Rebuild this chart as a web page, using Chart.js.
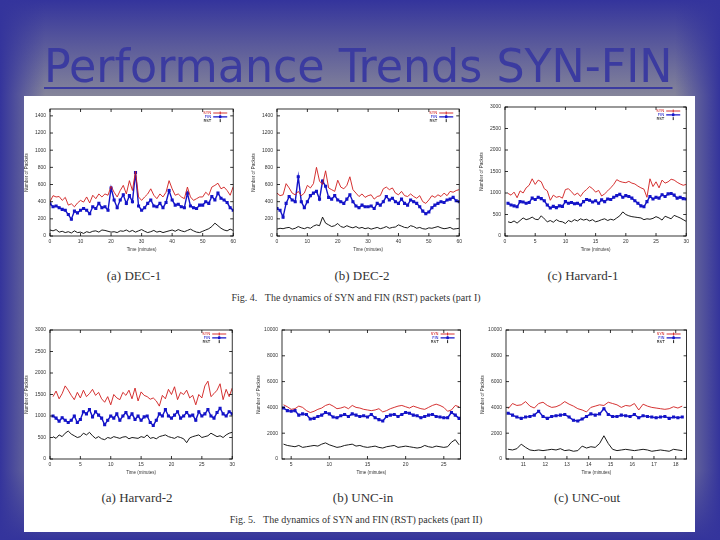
<!DOCTYPE html>
<html>
<head>
<meta charset="utf-8">
<script src="https://cdn.jsdelivr.net/npm/chart.js@4.4.1/dist/chart.umd.min.js"></script>
<style>
  html, body { margin: 0; padding: 0; }
  body {
    width: 720px; height: 540px; position: relative; overflow: hidden;
    background:
      linear-gradient(to right, #34349c 0px, rgba(52,52,156,0) 45px, rgba(52,52,156,0) 675px, #34349c 720px),
      linear-gradient(to bottom, #34349c 0px, rgba(52,52,156,0) 95px, rgba(52,52,156,0) 470px, #34349c 540px),
      #84849a;
  }
  #title {
    position: absolute; left: 44px; top: 41px;
    font-family: "DejaVu Sans Condensed", "DejaVu Sans", sans-serif;
    font-size: 47px; line-height: 50px; color: #3b3ba0;
    white-space: nowrap; transform-origin: 0 0;
    text-decoration: underline; text-decoration-thickness: 2px; text-underline-offset: 5px;
  }
  #panel { position: absolute; left: 24px; top: 96px; width: 671px; height: 436px; background: #fff; }
  canvas { position: absolute; }
  .cap { position: absolute; font-family: "Liberation Serif", serif; color: #333; white-space: nowrap; transform: translate(-50%, -50%); }
  .sub { font-size: 13px; }
  .fig { font-size: 10px; }
</style>
</head>
<body>
<div id="title">Performance Trends SYN-FIN</div>
<div id="panel"></div>

<div class="cap sub" style="left:134px; top:276px">(a) DEC-1</div>
<div class="cap sub" style="left:362px; top:276px">(b) DEC-2</div>
<div class="cap sub" style="left:583px; top:276px">(c) Harvard-1</div>
<div class="cap fig" style="left:356px; top:297px">Fig. 4.&nbsp;&nbsp;&nbsp;The dynamics of SYN and FIN (RST) packets (part I)</div>

<div class="cap sub" style="left:137px; top:498px">(a) Harvard-2</div>
<div class="cap sub" style="left:363px; top:498px">(b) UNC-in</div>
<div class="cap sub" style="left:587px; top:498px">(c) UNC-out</div>
<div class="cap fig" style="left:356px; top:519px">Fig. 5.&nbsp;&nbsp;&nbsp;The dynamics of SYN and FIN (RST) packets (part II)</div>

<script>
// series names
const seriesNames = ['SYN', 'FIN', 'RST'];

// DEC-1 (one sample per minute, 0..60)
const dec1Start = 0, dec1Step = 1;
const dec1Syn = [400,470,455,460,415,450,360,375,340,385, 415,395,455,385,475,435,490,455,490,475, 580,510,455,530,590,490,645,530,755,455, 415,455,490,550,475,435,490,455,510,645, 550,475,490,455,435,570,455,415,435,455, 455,510,475,570,590,615,550,570,530,475, 575];
const dec1Fin = [375,340,350,330,310,300,250,195,290,270, 300,320,300,260,340,320,380,330,340,300, 560,420,330,420,480,380,470,400,740,350, 300,330,380,420,350,340,380,330,390,530, 420,360,370,340,330,500,350,330,320,360, 360,400,380,460,420,500,440,420,390,330, 300];
const dec1Rst = [70,60,75,45,55,40,50,35,60,40, 45,30,50,40,55,60,45,70,65,55, 45,50,40,60,55,70,50,65,45,60, 75,55,40,50,65,45,55,40,50,60, 70,55,75,60,50,65,80,60,45,40, 55,70,85,110,150,120,90,70,60,80, 65];

// DEC-2
const dec2Start = 0, dec2Step = 1;
const dec2Syn = [500,470,480,610,560,500,480,520,470,500, 590,560,610,800,640,600,760,560,540,520, 650,570,550,590,690,540,500,460,490,450, 470,480,430,460,470,550,570,540,560,500, 480,520,470,460,490,460,440,470,400,380, 420,470,450,480,460,500,470,520,510,530, 540];
const dec2Fin = [320,300,220,380,460,420,400,690,400,330, 400,470,500,520,430,640,580,450,430,470, 420,400,380,430,480,400,350,330,360,340, 340,350,320,380,360,400,460,420,440,400, 380,430,380,360,420,400,380,340,290,260, 280,330,360,380,400,390,420,430,450,410, 400];
const dec2Rst = [80,90,85,95,100,80,90,110,95,85, 100,90,115,130,120,220,150,130,110,120, 146,110,100,120,105,95,110,90,100,85, 95,80,90,100,85,95,110,90,100,105, 130,115,100,95,120,110,90,100,85,80, 95,90,100,110,95,85,90,100,80,85, 90];

// Harvard-1 (every half minute, 0.5..30)
const h1Start = 0.5, h1Step = 0.5;
const h1Syn = [990,950,1020,890,1050,1000,1120,1180,1330,1200, 1300,1260,1100,1050,830,950,900,920,880,1080, 1100,1030,950,1000,920,1020,1080,1150,1100,1020, 1060,930,980,1050,1120,1200,1310,1270,1250,1240, 1270,1230,1210,1160,1120,1090,900,1330,1150,1260, 1120,1300,1230,1260,1320,1300,1250,1210,1180,1200];
const h1Fin = [760,720,700,680,800,790,760,780,880,850, 900,870,820,720,650,690,660,700,690,800, 760,780,750,760,720,800,850,830,790,820, 760,840,800,860,850,900,940,970,900,940, 920,880,820,760,700,680,800,920,860,900, 880,960,920,980,990,950,880,900,870,860];
const h1Rst = [330,310,350,300,360,420,380,400,440,390, 380,470,400,330,360,320,380,340,330,290, 360,330,380,350,400,370,390,350,380,330, 350,380,400,360,390,370,420,470,560,500, 470,450,440,430,420,380,400,390,410,450, 420,370,460,430,400,480,450,420,380,340];

// Harvard-2
const h2Start = 0.5, h2Step = 0.5;
const h2Syn = [1450,1580,1400,1520,1700,1600,1480,1380,1550,1420, 1600,1450,1520,1620,1480,1550,1400,1320,1450,1260, 1500,1420,1380,1550,1480,1600,1400,1650,1350,1560, 1480,1450,1390,1420,1350,1230,1480,1400,1620,1500, 1680,1380,1550,1500,1600,1420,1480,1260,1500,1420, 1700,1810,1450,1520,1600,1750,1380,1620,1450,1650];
const h2Fin = [1000,950,880,960,900,850,900,1000,850,920, 1100,1050,1150,980,1100,1020,950,800,900,1000, 950,1050,900,1000,1080,960,1050,920,1000,900, 980,1000,850,780,900,1050,1000,1150,1000,950, 1020,1100,950,1000,1080,1000,1020,900,1100,1000, 1050,1150,1000,950,1080,1180,1050,1000,1100,1050];
const h2Rst = [520,480,560,520,600,650,580,540,500,520, 600,560,620,540,480,520,470,450,500,480, 520,500,480,510,520,470,500,490,480,520, 500,560,480,500,470,520,540,560,520,500, 480,520,500,470,380,490,520,540,560,500, 520,540,600,560,520,540,500,560,600,620];

// UNC-in (4..27)
const uinStart = 4, uinStep = 0.5;
const uinSyn = [4200,4050,3850,3900,4100,4000,3750,3600,3700,3850, 3950,4150,4250,4100,3900,3950,4050,3900,4150,4000, 3950,3850,3800,3750,3800,3900,3650,3750,3900,4000, 4100,4150,4050,3950,4100,4000,3900,3850,4000,4150, 4250,4150,4000,3700,3800,4150,4050];
const uinFin = [3950,3750,3700,3750,3400,3500,3450,3100,3150,3300, 3400,3600,3500,3250,3200,3350,3450,3300,3500,3400, 3300,3350,3250,3450,3200,3050,2950,3300,3400,3450, 3300,3450,3600,3550,3400,3350,3200,3300,3400,3450, 3300,3250,3200,3200,3600,3400,3150];
const uinRst = [1150,1050,1000,950,1050,900,950,1000,1050,1000, 1150,1250,1100,1000,900,950,1050,1100,1150,1000, 1050,950,900,950,1000,900,850,950,1000,1050, 900,950,1000,950,900,850,900,1050,950,900, 1000,950,900,950,1300,1500,1100];

// UNC-out (10.3..18.3)
const uoutStart = 10.3, uoutStep = 0.2;
const uoutSyn = [3900,4300,4150,4200,4450,4100,3950,4300,4400,4150, 4000,4050,4200,4450,4250,4100,3900,3800,3650,4000, 4100,4200,4150,4400,4300,4200,4000,4150,4100,4300, 3800,4250,4100,4000,3950,3900,3850,3900,4050,3950, 4100];
const uoutFin = [3550,3400,3250,3150,3250,3300,3400,3700,3300,3150, 3300,3350,3400,3450,3250,3000,2950,3100,3300,3500, 3400,3500,3900,3450,3300,3300,3400,3350,3300,3450, 3200,3350,3300,3250,3200,3250,3300,3150,3250,3200, 3250];
const uoutRst = [750,700,800,1150,900,700,650,700,650,700, 750,700,800,650,700,600,650,1000,850,950, 900,1200,1800,1200,750,650,700,750,700,650, 700,750,700,600,650,700,650,600,750,700, 650];

// tick labels
const decXTicks = [0, 10, 20, 30, 40, 50, 60];
const decYTicks = [0, 200, 400, 600, 800, 1000, 1200, 1400];
const harvXTicks = [0, 5, 10, 15, 20, 25, 30];
const harvYTicks = [0, 500, 1000, 1500, 2000, 2500, 3000];
const uinXTicks = [5, 10, 15, 20, 25];
const uoutXTicks = [11, 12, 13, 14, 15, 16, 17, 18];
const uncYTicks = [0, 2000, 4000, 6000, 8000, 10000];

const colors = ['#d01c1c', '#1414c8', '#000000'];

// box round the plot with gnuplot style inward ticks
const framePlugin = {
  id: 'frame',
  afterDatasetsDraw(chart) {
    const { ctx, chartArea: a, scales } = chart;
    ctx.save();
    ctx.strokeStyle = '#000';
    ctx.lineWidth = 0.8;
    ctx.strokeRect(a.left, a.top, a.width, a.height);
    ctx.beginPath();
    scales.x.ticks.forEach(t => {
      const p = scales.x.getPixelForValue(t.value);
      ctx.moveTo(p, a.bottom); ctx.lineTo(p, a.bottom - 3);
      ctx.moveTo(p, a.top); ctx.lineTo(p, a.top + 3);
    });
    scales.y.ticks.forEach(t => {
      const p = scales.y.getPixelForValue(t.value);
      ctx.moveTo(a.left, p); ctx.lineTo(a.left + 3, p);
      ctx.moveTo(a.right, p); ctx.lineTo(a.right - 3, p);
    });
    ctx.stroke();
    ctx.restore();
  }
};

// legend in the top right corner: label, then a line sample
const keyPlugin = {
  id: 'key',
  afterDraw(chart) {
    const { ctx, chartArea: a } = chart;
    ctx.save();
    ctx.font = '4px "DejaVu Sans"';
    ctx.textAlign = 'right';
    ctx.textBaseline = 'middle';
    chart.data.datasets.forEach((ds, i) => {
      const y = a.top + 4 + i * 3.8;
      ctx.fillStyle = ds.borderColor;
      ctx.fillText(ds.label, a.right - 22, y);
      ctx.strokeStyle = ds.borderColor;
      ctx.lineWidth = i === 1 ? 1.3 : 0.9;
      ctx.beginPath();
      if (i < 2) { ctx.moveTo(a.right - 20, y); ctx.lineTo(a.right - 6, y); }
      ctx.moveTo(a.right - 13, y - 1.5); ctx.lineTo(a.right - 13, y + 1.5);
      ctx.stroke();
      if (i === 1) ctx.fillRect(a.right - 14.2, y - 1.2, 2.4, 2.4);
    });
    ctx.restore();
  }
};

function series(start, step, values) {
  return values.map((v, i) => ({ x: start + i * step, y: v }));
}

function makeChart(rect, xr, xt, yr, yt, start, step, syn, fin, rst) {
  const [L, T, R, B] = rect;
  const padTop = 6, padRight = 5, yW = 26, xH = 16;
  const c = document.createElement('canvas');
  c.width = (R - L) + yW + padRight;
  c.height = (B - T) + padTop + xH;
  c.style.left = (L - yW) + 'px';
  c.style.top = (T - padTop) + 'px';
  document.body.appendChild(c);

  const vals = [syn, fin, rst];
  new Chart(c, {
    type: 'line',
    data: {
      datasets: vals.map((v, i) => ({
        label: seriesNames[i],
        data: series(start, step, v),
        borderColor: colors[i],
        backgroundColor: colors[i],
        borderWidth: i === 1 ? 1.4 : 0.9,
        pointRadius: i === 1 ? 1.2 : 0,
        pointStyle: 'rect',
        tension: 0
      }))
    },
    options: {
      responsive: false,
      animation: false,
      devicePixelRatio: 1,
      layout: { padding: { top: padTop, right: padRight, left: 0, bottom: 0 } },
      plugins: { legend: { display: false }, tooltip: { enabled: false } },
      scales: {
        x: {
          type: 'linear', min: xr[0], max: xr[1],
          grid: { display: false, drawTicks: false }, border: { display: false },
          ticks: { font: { size: 5 }, color: '#333', padding: 3, maxRotation: 0, callback: v => String(v) },
          afterBuildTicks: s => { s.ticks = xt.map(v => ({ value: v })); },
          afterFit: s => { s.height = xH; },
          title: { display: true, text: 'Time (minutes)', font: { size: 4.5 }, color: '#333', padding: 0 }
        },
        y: {
          type: 'linear', min: yr[0], max: yr[1],
          grid: { display: false, drawTicks: false }, border: { display: false },
          ticks: { font: { size: 5 }, color: '#333', padding: 4, callback: v => String(v) },
          afterBuildTicks: s => { s.ticks = yt.map(v => ({ value: v })); },
          afterFit: s => { s.width = yW; },
          title: { display: true, text: 'Number of Packets', font: { size: 4.5 }, color: '#333', padding: 0 }
        }
      }
    },
    plugins: [framePlugin, keyPlugin]
  });
}

makeChart([50, 108, 234, 236], [0, 60], decXTicks, [0, 1480], decYTicks, dec1Start, dec1Step, dec1Syn, dec1Fin, dec1Rst);
makeChart([277, 108, 460, 236], [0, 60], decXTicks, [0, 1480], decYTicks, dec2Start, dec2Step, dec2Syn, dec2Fin, dec2Rst);
makeChart([505, 106, 687, 236], [0, 30], harvXTicks, [0, 3000], harvYTicks, h1Start, h1Step, h1Syn, h1Fin, h1Rst);
makeChart([50, 329, 233, 459], [0, 30], harvXTicks, [0, 3000], harvYTicks, h2Start, h2Step, h2Syn, h2Fin, h2Rst);
makeChart([282, 329, 461, 459], [3.8, 27.2], uinXTicks, [0, 10000], uncYTicks, uinStart, uinStep, uinSyn, uinFin, uinRst);
makeChart([506, 329, 687, 459], [10.2, 18.5], uoutXTicks, [0, 10000], uncYTicks, uoutStart, uoutStep, uoutSyn, uoutFin, uoutRst);

// stretch the title to the width it has on the slide
const title = document.getElementById('title');
title.style.transform = 'scaleX(' + (628 / title.offsetWidth) + ')';
</script>
</body>
</html>
